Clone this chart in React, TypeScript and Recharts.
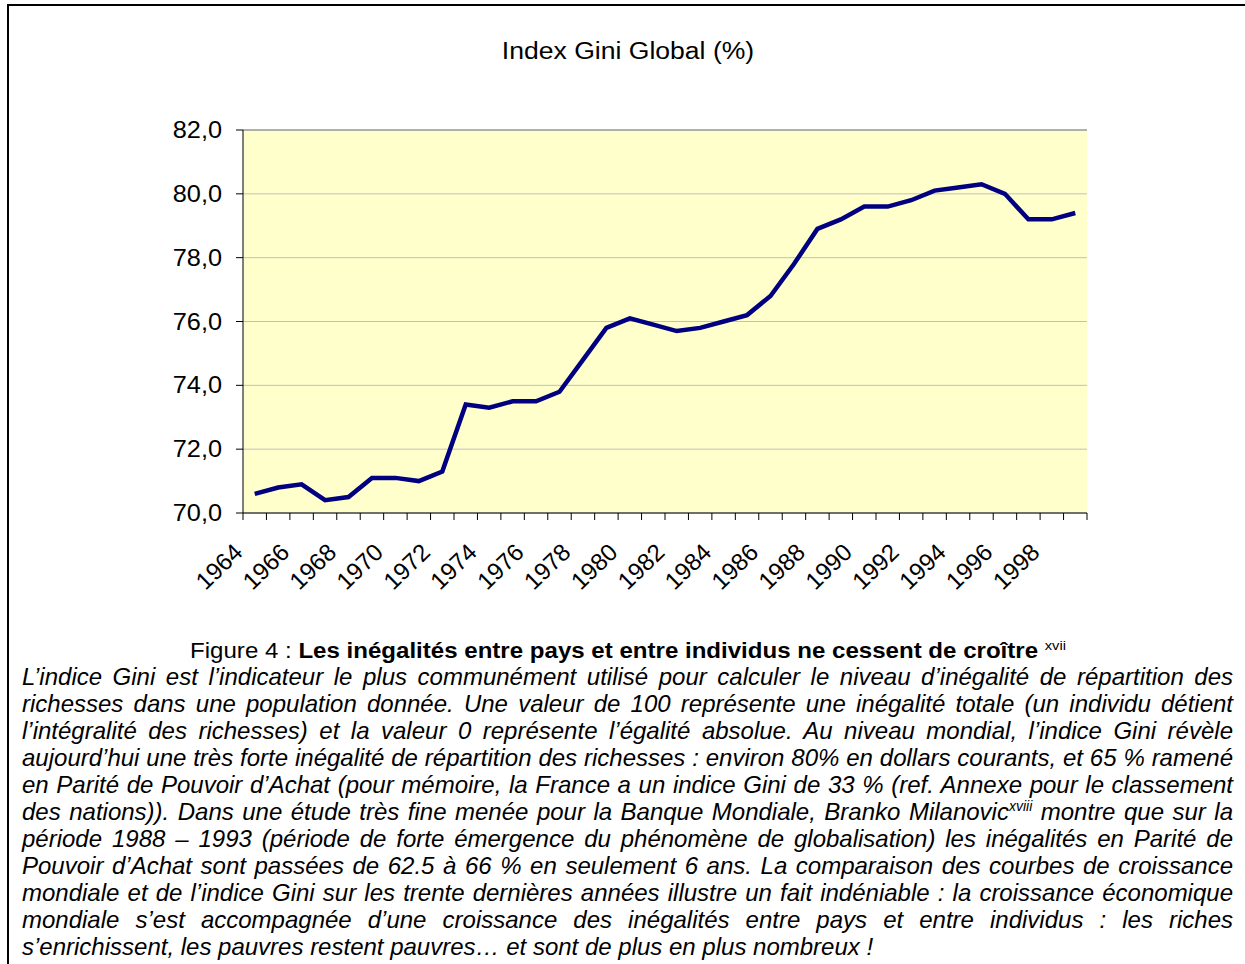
import React from "react";
import { CartesianGrid, Line, LineChart, ReferenceLine, XAxis, YAxis } from "recharts";

const years = [
  1964, 1965, 1966, 1967, 1968, 1969, 1970, 1971, 1972, 1973, 1974, 1975,
  1976, 1977, 1978, 1979, 1980, 1981, 1982, 1983, 1984, 1985, 1986, 1987,
  1988, 1989, 1990, 1991, 1992, 1993, 1994, 1995, 1996, 1997, 1998, 1999,
];
const gini = [
  70.6, 70.8, 70.9, 70.4, 70.5, 71.1, 71.1, 71.0, 71.3, 73.4, 73.3, 73.5,
  73.5, 73.8, 74.8, 75.8, 76.1, 75.9, 75.7, 75.8, 76.0, 76.2, 76.8, 77.8,
  78.9, 79.2, 79.6, 79.6, 79.8, 80.1, 80.2, 80.3, 80.0, 79.2, 79.2, 79.4,
];
const yTicks = [70, 72, 74, 76, 78, 80, 82];
const labelYears = [
  1964, 1966, 1968, 1970, 1972, 1974, 1976, 1978, 1980, 1982, 1984, 1986,
  1988, 1990, 1992, 1994, 1996, 1998,
];

const data = years.map((year, i) => ({ year, gini: gini[i] }));
// tick marks sit between categories, like the spreadsheet original
const boundaries = [...years.map((y) => y - 0.5), years[years.length - 1] + 0.5];

const FONT = "'Liberation Sans', Arial, sans-serif";

function YTick({ x, y, payload }: any) {
  const label = payload.value.toFixed(1).replace(".", ",");
  return (
    <text
      transform={`translate(${x - 12},${y}) scale(1.1,1)`}
      textAnchor="end"
      dominantBaseline="central"
      fontSize={23}
      fontFamily={FONT}
      fill="#000"
    >
      {label}
    </text>
  );
}

function XTick({ x, y, payload }: any) {
  const year = payload.value + 0.5;
  if (!labelYears.includes(year)) return null;
  return (
    <text
      transform={`translate(${x + 1},${y + 32}) rotate(-44)`}
      textAnchor="end"
      fontSize={24}
      fontFamily={FONT}
      fill="#000"
    >
      {year}
    </text>
  );
}

const captionLines = [
  "L’indice Gini est l’indicateur le plus communément utilisé pour calculer le niveau d’inégalité de répartition des",
  "richesses dans une population donnée. Une valeur de 100 représente une inégalité totale (un individu détient",
  "l’intégralité des richesses) et la valeur 0 représente l’égalité absolue. Au niveau mondial, l’indice Gini révèle",
  "aujourd’hui une très forte inégalité de répartition des richesses : environ 80% en dollars courants, et 65 % ramené",
  "en Parité de Pouvoir d’Achat (pour mémoire, la France a un indice Gini de 33 % (ref. Annexe pour le classement",
  "SUP",
  "période 1988 – 1993 (période de forte émergence du phénomène de globalisation) les inégalités en Parité de",
  "Pouvoir d’Achat sont passées de 62.5 à 66 % en seulement 6 ans. La comparaison des courbes de croissance",
  "mondiale et de l’indice Gini sur les trente dernières années illustre un fait indéniable : la croissance économique",
  "mondiale s’est accompagnée d’une croissance des inégalités entre pays et entre individus : les riches",
  "s’enrichissent, les pauvres restent pauvres… et sont de plus en plus nombreux !",
];

export default function App() {
  return (
    <div
      style={{
        position: "absolute",
        left: 0,
        top: 0,
        width: 1245,
        height: 964,
        overflow: "hidden",
        background: "#fff",
        fontFamily: FONT,
      }}
    >
      <div
        style={{
          position: "absolute",
          left: 7,
          top: 4,
          width: 1400,
          height: 1100,
          borderLeft: "2px solid #000",
          borderTop: "2px solid #000",
        }}
      />
      <div
        style={{
          position: "absolute",
          left: 628,
          top: 38,
          fontSize: 23.5,
          whiteSpace: "nowrap",
          transform: "translateX(-50%) scaleX(1.13)",
        }}
      >
        Index Gini Global (%)
      </div>
      <div style={{ position: "absolute", left: 0, top: 0 }}>
        <LineChart
          width={1245}
          height={620}
          data={data}
          margin={{ top: 130, right: 158, bottom: 47, left: 163 }}
        >
          <CartesianGrid vertical={false} fill="#FFFFCC" stroke="#C0C0C0" strokeWidth={1} />
          <XAxis
            dataKey="year"
            type="number"
            domain={[boundaries[0], boundaries[boundaries.length - 1]]}
            ticks={boundaries}
            interval={0}
            height={60}
            tick={<XTick />}
            tickSize={7}
            tickLine={{ stroke: "#000" }}
            axisLine={{ stroke: "#000" }}
          />
          <YAxis
            domain={[70, 82]}
            ticks={yTicks}
            width={80}
            tick={<YTick />}
            tickSize={7}
            tickLine={{ stroke: "#000" }}
            axisLine={{ stroke: "#000" }}
          />
          <YAxis
            yAxisId="frame"
            orientation="right"
            domain={[70, 82]}
            width={0}
            tick={false}
            tickLine={false}
            axisLine={{ stroke: "#808080" }}
          />
          <ReferenceLine y={82} stroke="#808080" />
          <Line
            type="linear"
            dataKey="gini"
            stroke="#000080"
            strokeWidth={4.5}
            dot={false}
            activeDot={false}
            isAnimationActive={false}
          />
        </LineChart>
      </div>
      <div
        style={{
          position: "absolute",
          left: 628,
          top: 638,
          fontSize: 21.3,
          whiteSpace: "nowrap",
          transform: "translateX(-50%) scaleX(1.13)",
        }}
      >
        Figure 4 : <b>Les inégalités entre pays et entre individus ne cessent de croître</b>{" "}
        <sup style={{ fontSize: 13 }}>xvii</sup>
      </div>
      <div
        style={{
          position: "absolute",
          left: 22,
          top: 663,
          width: 1211,
          fontSize: 24,
          lineHeight: "27px",
          fontStyle: "italic",
        }}
      >
        {captionLines.map((line, i) => (
          <div
            key={i}
            style={{
              textAlign: "justify",
              textAlignLast: i === captionLines.length - 1 ? "left" : "justify",
              whiteSpace: "nowrap",
            }}
          >
            {line === "SUP" ? (
              <>
                des nations)). Dans une étude très fine menée pour la Banque Mondiale, Branko Milanovic
                <sup style={{ fontSize: 14, lineHeight: 0 }}>xviii</sup> montre que sur la
              </>
            ) : (
              line
            )}
          </div>
        ))}
      </div>
    </div>
  );
}
